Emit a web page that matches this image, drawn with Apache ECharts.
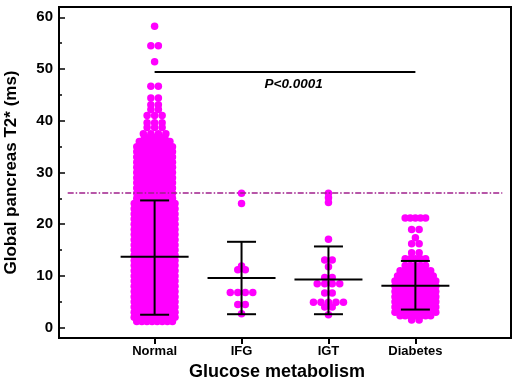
<!DOCTYPE html>
<html>
<head>
<meta charset="utf-8">
<script src="https://cdn.jsdelivr.net/npm/echarts@6/dist/echarts.min.js"></script>
<style>
  html, body { margin: 0; padding: 0; background: #fff; }
  #chart { width: 520px; height: 385px; }
</style>
</head>
<body>
<div id="chart"></div>
<script>
// groups on the x axis (placed at 1..4)
const categories = ['Normal', 'IFG', 'IGT', 'Diabetes'];

// T2* values, as rows of stacked dots (value, how many dots)
const normalRowValues = [1.2, 2, 3, 4, 5, 6, 7, 8, 9, 10, 11, 12, 13, 14, 15, 16, 17, 18, 19, 20,
  21, 22, 23, 24, 25, 26, 27, 28, 29, 30, 31, 32, 33, 34, 35, 36, 36.8, 37.5, 38.7, 39.6,
  41, 42.2, 43.1, 44.4, 46.7, 51.4, 54.5, 58.3];
const normalRowCounts = [8, 9, 9, 9, 9, 9, 9, 9, 9, 9, 9, 9, 9, 9, 9, 9, 9, 9, 9, 9,
  9, 9, 9, 9, 8, 8, 8, 8, 8, 8, 8, 8, 8, 8, 8, 7, 5, 4, 3, 3,
  3, 2, 2, 2, 2, 1, 2, 1];

const ifgRowValues = [2.7, 4.5, 6.8, 11.2, 11.9, 24.0, 26.0];
const ifgRowCounts = [1, 2, 4, 2, 1, 1, 1];

const igtRowValues = [2.5, 4.0, 4.9, 6.7, 8.5, 9.7, 11.8, 13.1, 17.1, 24.2, 25.1, 26.0];
const igtRowCounts = [1, 2, 5, 2, 4, 2, 1, 2, 1, 1, 1, 1];

const diabetesRowValues = [1.5, 2.3, 3, 4, 5, 6, 7, 8, 9, 10, 11, 12, 13.3, 14.5, 16.2, 17.4, 19, 21.2];
const diabetesRowCounts = [2, 7, 9, 9, 9, 9, 9, 9, 9, 8, 7, 5, 5, 2, 2, 1, 2, 5];

// mean and SD bars
const meanValues = [13.7, 9.6, 9.3, 8.1];
const sdLower = [2.5, 2.6, 2.6, 3.5];
const sdUpper = [24.6, 16.6, 15.7, 12.9];

// reference lines and annotation
const thresholdValue = 26;
const pLineValue = 49.5;
const pLabelText = 'P<0.0001';
const pLabelPos = [2.6, 47.1];

const yTickValues = [0, 10, 20, 30, 40, 50, 60];
const yMinorTickValues = [5, 15, 25, 35, 45, 55];

const font = 'Arial, "Liberation Sans", sans-serif';
const gridLeft = 59, gridRight = 9;
const xMin = -0.1, xMax = 5.1;
const xUnitPerPx = (xMax - xMin) / (520 - gridLeft - gridRight);

// spread each row of dots sideways, centred on the group
function swarm(rowValues, rowCounts, xPos, dense) {
  const out = [];
  rowValues.forEach(function (v, i) {
    const n = rowCounts[i];
    const gap = (dense && n > 4) ? 5.1 : 7.5;
    for (let k = 0; k < n; k++) {
      const dx = (k - (n - 1) / 2) * gap;
      out.push([xPos + dx * xUnitPerPx, v]);
    }
  });
  return out;
}

const points = [].concat(
  swarm(normalRowValues, normalRowCounts, 1, true),
  swarm(ifgRowValues, ifgRowCounts, 2, false),
  swarm(igtRowValues, igtRowCounts, 3, false),
  swarm(diabetesRowValues, diabetesRowCounts, 4, true)
);

const barData = meanValues.map(function (m, i) {
  return [i + 1, m, sdLower[i], sdUpper[i]];
});

const chart = echarts.init(document.getElementById('chart'));

chart.setOption({
  animation: false,
  grid: {
    left: gridLeft, right: gridRight, top: 7, bottom: 47,
    outerBoundsMode: 'none',
    containLabel: false,
    show: true, borderColor: '#000', borderWidth: 2
  },
  xAxis: {
    type: 'value',
    min: xMin,
    max: xMax,
    name: 'Glucose metabolism',
    nameLocation: 'middle',
    nameGap: 24,
    nameTextStyle: { fontFamily: font, fontWeight: 'bold', fontSize: 18, color: '#000', padding: [0, 16, 0, 0] },
    axisLine: { onZero: false, lineStyle: { color: '#000', width: 2 } },
    axisTick: { customValues: [1, 2, 3, 4], inside: false, length: 6, lineStyle: { color: '#000', width: 2 } },
    axisLabel: {
      customValues: [1, 2, 3, 4],
      formatter: function (v) { return categories[Math.round(v) - 1] || ''; },
      fontFamily: font, fontWeight: 'bold', fontSize: 13, color: '#000', margin: 7
    },
    splitLine: { show: false }
  },
  yAxis: [{
    type: 'value',
    min: -2,
    max: 62,
    name: 'Global pancreas T2* (ms)',
    nameLocation: 'middle',
    nameGap: 39,
    nameTextStyle: { fontFamily: font, fontWeight: 'bold', fontSize: 17, color: '#000' },
    axisLine: { onZero: false, lineStyle: { color: '#000', width: 2 } },
    axisTick: { customValues: yTickValues, inside: true, length: 6, lineStyle: { color: '#000', width: 1.5 } },
    axisLabel: {
      customValues: yTickValues,
      fontFamily: font, fontWeight: 'bold', fontSize: 15, color: '#000', margin: 6
    },
    splitLine: { show: false }
  }, {
    type: 'value',
    position: 'left',
    min: -2,
    max: 62,
    axisLine: { show: false, onZero: false },
    axisTick: { customValues: yMinorTickValues, inside: true, length: 3, lineStyle: { color: '#000', width: 1.5 } },
    axisLabel: { show: false },
    splitLine: { show: false }
  }],
  series: [
    {
      // reference lines under the dots
      type: 'scatter',
      data: [],
      z: 1,
      markLine: {
        silent: true,
        symbol: 'none',
        label: { show: false },
        data: [
          [{ coord: [0, thresholdValue] }, { coord: [5, thresholdValue] }],
          [{ coord: [1, pLineValue], lineStyle: { color: '#000', width: 2, type: 'solid' } },
           { coord: [4, pLineValue] }]
        ],
        lineStyle: { color: '#a0208c', width: 1.5, type: [6, 2, 1.5, 2] }
      }
    },
    {
      type: 'scatter',
      data: points,
      symbol: 'circle',
      symbolSize: 7.5,
      z: 2,
      itemStyle: { color: '#ff00ff', opacity: 1 }
    },
    {
      type: 'custom',
      z: 3,
      data: barData,
      encode: { x: 0, y: [1, 2, 3] },
      renderItem: function (params, api) {
        const pm = api.coord([api.value(0), api.value(1)]);
        const pl = api.coord([api.value(0), api.value(2)]);
        const ph = api.coord([api.value(0), api.value(3)]);
        const style = { stroke: '#000', lineWidth: 2 };
        return {
          type: 'group',
          children: [
            { type: 'line', shape: { x1: pm[0] - 34, y1: pm[1], x2: pm[0] + 34, y2: pm[1] }, style: style },
            { type: 'line', shape: { x1: pl[0], y1: pl[1], x2: ph[0], y2: ph[1] }, style: style },
            { type: 'line', shape: { x1: ph[0] - 14.5, y1: ph[1], x2: ph[0] + 14.5, y2: ph[1] }, style: style },
            { type: 'line', shape: { x1: pl[0] - 14.5, y1: pl[1], x2: pl[0] + 14.5, y2: pl[1] }, style: style }
          ]
        };
      }
    },
    {
      type: 'scatter',
      z: 4,
      data: [pLabelPos],
      symbolSize: 0,
      itemStyle: { opacity: 1 },
      label: {
        show: true,
        position: 'inside',
        formatter: pLabelText,
        fontFamily: font, fontWeight: 'bold', fontStyle: 'italic', fontSize: 13.5, color: '#000'
      }
    }
  ]
});
</script>
</body>
</html>
